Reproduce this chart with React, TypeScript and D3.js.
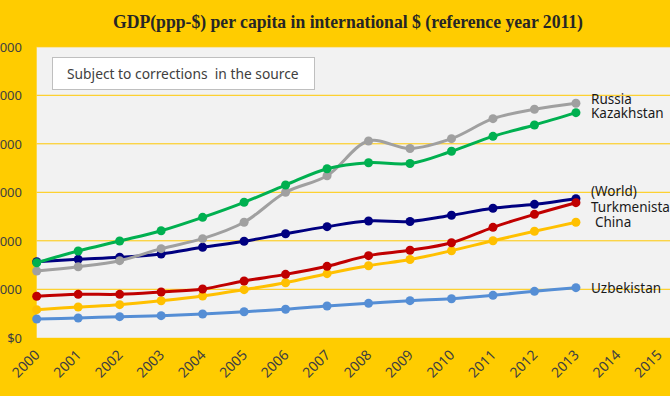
import React, { useEffect } from 'react';
import * as d3 from 'd3';

// Years on the category axis (2014 and 2015 carry no data)
const years = [2000, 2001, 2002, 2003, 2004, 2005, 2006, 2007, 2008, 2009, 2010, 2011, 2012, 2013];
const axisYears = [2000, 2001, 2002, 2003, 2004, 2005, 2006, 2007, 2008, 2009, 2010, 2011, 2012, 2013, 2014, 2015];
const yTicks = [0, 5000, 10000, 15000, 20000, 25000, 30000];

// GDP (ppp, 2011 international $) per capita
const world = [7850, 8090, 8300, 8640, 9330, 9950, 10730, 11460, 12040, 11990, 12630, 13350, 13760, 14340];
const russia = [6890, 7330, 7950, 9190, 10220, 11910, 15000, 16710, 20290, 19520, 20530, 22590, 23560, 24180];
const kazakhstan = [7740, 8950, 9980, 11040, 12420, 13970, 15750, 17430, 18050, 17970, 19230, 20770, 21940, 23210];
const uzbekistan = [1940, 2040, 2180, 2280, 2450, 2690, 2940, 3280, 3550, 3830, 4030, 4380, 4790, 5170];
const china = [2900, 3175, 3415, 3825, 4310, 4960, 5680, 6610, 7430, 8070, 8980, 10010, 10980, 11910];
const turkmenistan = [4280, 4480, 4480, 4720, 5030, 5860, 6540, 7370, 8470, 9020, 9800, 11390, 12730, 13930];

const series = [
  { name: 'Uzbekistan', values: uzbekistan, color: '#558ED5', labelY: 292.5, labelX: 591 },
  { name: 'China', values: china, color: '#FFC000', labelY: 227, labelX: 595 },
  { name: '(World)', values: world, color: '#000080', labelY: 196, labelX: 591 },
  { name: 'Turkmenistan', values: turkmenistan, color: '#C00000', labelY: 211.5, labelX: 591 },
  { name: 'Russia', values: russia, color: '#A0A0A0', labelY: 104, labelX: 591 },
  { name: 'Kazakhstan', values: kazakhstan, color: '#00B050', labelY: 117.5, labelX: 591 },
];

const width = 670;
const height = 396;
const plot = { left: 36.7, right: 670, top: 46.8, bottom: 337.8 };

export default function App() {
  useEffect(() => {
    document.body.style.margin = '0';
  }, []);

  const x = d3.scaleLinear().domain([2000, 2015]).range([plot.left, plot.left + 15 * 41.48]);
  const y = d3.scaleLinear().domain([0, 30000]).range([plot.bottom, plot.top]);

  const line = d3
    .line<number>()
    .x((_, i) => x(years[i]))
    .y((d) => y(d))
    .curve(d3.curveCatmullRom.alpha(0.5));

  const sans = '"Noto Sans", "Open Sans", sans-serif';

  return (
    <svg width={width} height={height} style={{ display: 'block' }}>
      <rect x={0} y={0} width={width} height={height} fill="#FFCC00" />
      <rect
        x={plot.left}
        y={plot.top}
        width={plot.right - plot.left}
        height={plot.bottom - plot.top}
        fill="#F2F2F2"
      />

      {/* gridlines */}
      {yTicks.slice(1).map((t) => (
        <line key={`g${t}`} x1={plot.left} x2={plot.right} y1={y(t)} y2={y(t)} stroke="#FFC800" strokeWidth={1} />
      ))}

      {/* y labels (cut off on the left as in the source) */}
      <g fontFamily={sans} fontSize={13} fill="#404040">
        {yTicks.map((t) => (
          <text key={`y${t}`} x={22} y={y(t) + 5} textAnchor="end">
            {'$' + d3.format(',')(t)}
          </text>
        ))}
      </g>

      {/* x labels */}
      <g fontFamily={sans} fontSize={14} fill="#404040">
        {axisYears.map((yr) => (
          <text
            key={`x${yr}`}
            transform={`translate(${x(yr) + 4},${plot.bottom + 18}) rotate(-45)`}
            textAnchor="end"
          >
            {yr}
          </text>
        ))}
      </g>

      {/* title */}
      <text
        x={113}
        y={28}
        fontFamily='"Liberation Serif", "DejaVu Serif", serif'
        fontWeight="bold"
        fontSize={19}
        fill="#262626"
        textLength={470}
        lengthAdjust="spacingAndGlyphs"
      >
        GDP(ppp-$) per capita in international $ (reference year 2011)
      </text>

      {/* note box */}
      <rect x={52.5} y={57.5} width={262} height={32} fill="#FFFFFF" stroke="#BFBFBF" strokeWidth={1} />
      <text x={67} y={78.5} fontFamily={sans} fontSize={13.8} fill="#404040" style={{ whiteSpace: 'pre' }}>
        {'Subject to corrections  in the source'}
      </text>

      {/* series */}
      {series.map((s) => (
        <g key={s.name}>
          <path d={line(s.values) || ''} fill="none" stroke={s.color} strokeWidth={3} strokeLinejoin="round" />
          {s.values.map((v, i) => (
            <circle key={i} cx={x(years[i])} cy={y(v)} r={4.5} fill={s.color} />
          ))}
        </g>
      ))}

      {/* series labels */}
      <g fontFamily={sans} fontSize={13.5} fill="#1A1A1A">
        {series.map((s) => (
          <text key={`l${s.name}`} x={s.labelX} y={s.labelY}>
            {s.name}
          </text>
        ))}
      </g>
    </svg>
  );
}
